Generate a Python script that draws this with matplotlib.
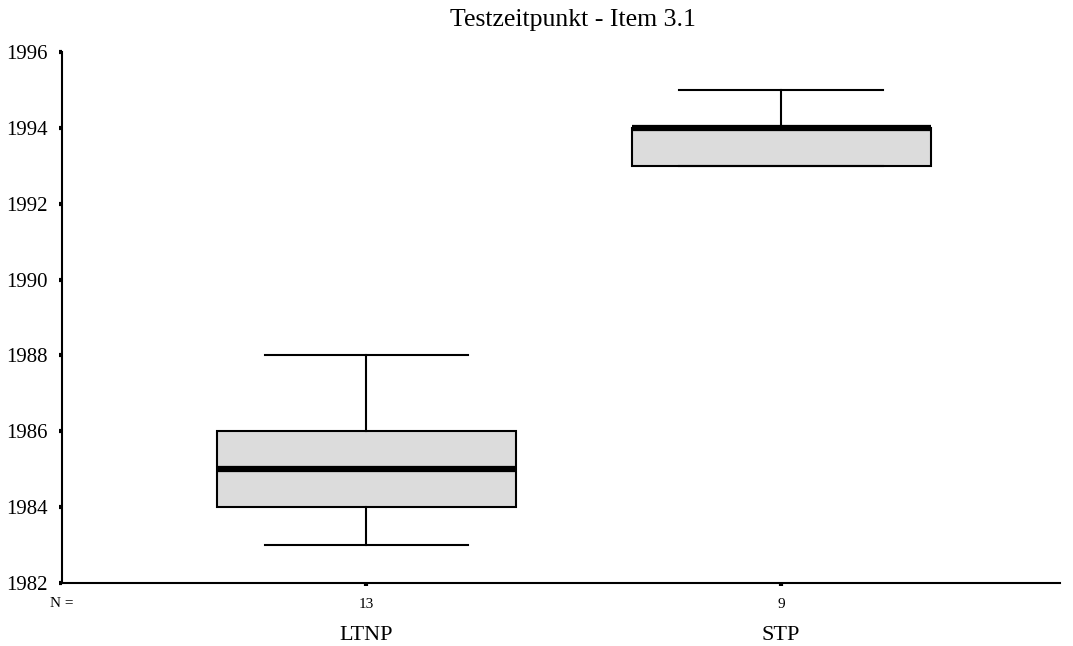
import matplotlib.pyplot as plt

# Daten
gruppen = ["LTNP", "STP"]
anzahl = [13, 9]
minimum = [1983, 1993]
q1 = [1984, 1993]
median = [1985, 1994]
q3 = [1986, 1994]
maximum = [1988, 1995]
y_ticks = [1982, 1984, 1986, 1988, 1990, 1992, 1994, 1996]

plt.rcParams['font.family'] = ['Liberation Serif', 'DejaVu Serif']

fig = plt.figure(figsize=(10.73, 6.46), dpi=100)
ax = fig.add_axes([62 / 1073, 1 - 583 / 646, (1060 - 62) / 1073, (583 - 52) / 646])

stats = []
for i in range(len(gruppen)):
    stats.append({"label": gruppen[i], "whislo": minimum[i], "q1": q1[i], "med": median[i],
                  "q3": q3[i], "whishi": maximum[i], "fliers": []})

ax.bxp(stats, positions=[1, 2], widths=0.72, patch_artist=True, showfliers=False,
       boxprops=dict(facecolor="#dcdcdc", edgecolor="black", linewidth=1.5),
       medianprops=dict(color="black", linewidth=4.5, solid_capstyle="butt"),
       whiskerprops=dict(color="black", linewidth=1.5),
       capprops=dict(color="black", linewidth=1.5),
       capwidths=0.49)

ax.set_xlim(0.267, 2.672)
ax.set_ylim(1982, 1996)
ax.set_yticks(y_ticks)
ax.set_yticklabels([str(t) for t in y_ticks], fontsize=15)
ax.set_xticks([1, 2])
ax.set_xticklabels([str(n) for n in anzahl], fontsize=11)

ax.spines["top"].set_visible(False)
ax.spines["right"].set_visible(False)
ax.spines["left"].set_linewidth(1.5)
ax.spines["bottom"].set_linewidth(1.5)
ax.tick_params(axis="both", direction="out", length=2.5, width=3, pad=8)
ax.tick_params(axis="x", pad=8)

# N = und Gruppennamen
ax.text(0.267, -0.038, "N =", transform=ax.get_xaxis_transform(), fontsize=11,
        ha="center", va="center")
for i in range(len(gruppen)):
    ax.text(i + 1, -0.098, gruppen[i], transform=ax.get_xaxis_transform(), fontsize=16,
            ha="center", va="center")

fig.text(573 / 1073, 1 - 20 / 646, "Testzeitpunkt - Item 3.1", fontsize=18.5, ha="center", va="center")

fig.savefig("out.png", dpi=100)
